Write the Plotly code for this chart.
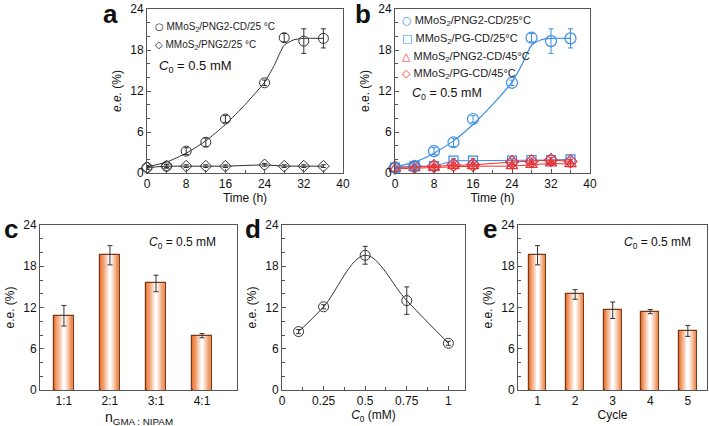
import plotly.graph_objects as go

W, H = 709, 426

# ---------------- data ----------------
time_h = [0, 4, 8, 12, 16, 24, 28, 32, 36]
ee_png2cd_25 = [0.8, 1.0, 3.2, 4.5, 7.9, 13.2, 19.8, 19.3, 19.7]
err_png2cd_25 = [0.3, 0.3, 0.5, 0.6, 0.5, 0.4, 0.6, 1.8, 1.4]
ee_png2_25 = [0.8, 1.0, 1.0, 1.0, 1.0, 1.2, 1.0, 1.0, 1.0]
err_png2_25 = [0.2, 0.2, 0.2, 0.2, 0.2, 0.2, 0.2, 0.2, 0.2]
fit_time = [0, 4, 8, 12, 16, 20, 24, 26, 28, 30, 32, 36]
fit_ee = [0.9, 1.6, 2.9, 4.7, 7.1, 10.0, 13.3, 15.8, 18.7, 19.5, 19.7, 19.7]
ee_pgcd_25 = [0.8, 1.0, 1.0, 1.8, 1.8, 1.8, 1.9, 1.9, 2.0]
err_pgcd_25 = [0.2, 0.2, 0.2, 0.3, 0.3, 0.3, 0.3, 0.3, 0.3]
ee_png2cd_45 = [0.6, 0.7, 0.8, 1.0, 1.0, 1.0, 1.2, 1.4, 1.3]
err_png2cd_45 = [0.2, 0.2, 0.2, 0.3, 0.3, 0.3, 0.3, 0.3, 0.3]
ee_pgcd_45 = [0.8, 0.9, 1.0, 1.2, 1.2, 1.6, 1.7, 1.9, 1.7]
err_pgcd_45 = [0.2, 0.2, 0.2, 0.3, 0.3, 0.3, 0.3, 0.4, 0.3]

ratio_labels = ["1:1", "2:1", "3:1", "4:1"]
ratio_pos = [0, 1, 2, 3]
ee_ratio = [10.8, 19.6, 15.5, 7.9]
err_ratio = [1.5, 1.4, 1.2, 0.3]

c0_mM = [0.1, 0.25, 0.5, 0.75, 1.0]
ee_c0 = [8.5, 12.1, 19.6, 13.0, 6.8]
err_c0 = [0.3, 0.3, 1.3, 2.0, 0.3]

cycle = [1, 2, 3, 4, 5]
ee_cycle = [19.6, 13.9, 11.6, 11.4, 8.6]
err_cycle = [1.4, 0.7, 1.2, 0.3, 0.8]

# ---------------- style ----------------
BLUE = "#3a8ee6"
RED = "#f03030"
GREY = "#333333"
AXC = "#555555"
FONT = "Liberation Sans, Arial, sans-serif"

fig = go.Figure()


def px_x(p):
    return p / W


def px_y(p):
    return 1 - p / H


def err(vals, color=GREY):
    return dict(type="data", array=vals, visible=True, color=color, thickness=1, width=2.5)


# ---------------- panel a ----------------
fig.add_trace(go.Scatter(x=fit_time, y=fit_ee, mode="lines", line=dict(color=GREY, width=1, shape="spline", smoothing=0.6),
                         xaxis="x", yaxis="y", showlegend=False, hoverinfo="skip"))
fig.add_trace(go.Scatter(x=time_h, y=ee_png2_25, mode="lines+markers", line=dict(color=GREY, width=1),
                         marker=dict(symbol="diamond-open", size=9, color=GREY, line=dict(width=1)),
                         error_y=err(err_png2_25), xaxis="x", yaxis="y", showlegend=False, cliponaxis=False))
fig.add_trace(go.Scatter(x=time_h, y=ee_png2cd_25, mode="markers",
                         marker=dict(symbol="circle-open", size=10, color=GREY, line=dict(width=1)),
                         error_y=err(err_png2cd_25), xaxis="x", yaxis="y", showlegend=False, cliponaxis=False))

# ---------------- panel b ----------------
fig.add_trace(go.Scatter(x=time_h, y=ee_pgcd_25, mode="lines+markers", line=dict(color=BLUE, width=1),
                         marker=dict(symbol="square-open", size=9, color=BLUE, line=dict(width=1.2)),
                         error_y=err(err_pgcd_25, BLUE), xaxis="x2", yaxis="y2", showlegend=False, cliponaxis=False))
fig.add_trace(go.Scatter(x=time_h, y=ee_png2cd_45, mode="lines+markers", line=dict(color=RED, width=1),
                         marker=dict(symbol="triangle-up-open", size=10, color=RED, line=dict(width=1.2)),
                         error_y=err(err_png2cd_45, RED), xaxis="x2", yaxis="y2", showlegend=False, cliponaxis=False))
fig.add_trace(go.Scatter(x=time_h, y=ee_pgcd_45, mode="lines+markers", line=dict(color=RED, width=1),
                         marker=dict(symbol="diamond-open", size=10, color=RED, line=dict(width=1.2)),
                         error_y=err(err_pgcd_45, RED), xaxis="x2", yaxis="y2", showlegend=False, cliponaxis=False))
fig.add_trace(go.Scatter(x=fit_time, y=fit_ee, mode="lines", line=dict(color=BLUE, width=1.2, shape="spline", smoothing=0.6),
                         xaxis="x2", yaxis="y2", showlegend=False, hoverinfo="skip"))
fig.add_trace(go.Scatter(x=time_h, y=ee_png2cd_25, mode="markers",
                         marker=dict(symbol="circle-open", size=11, color=BLUE, line=dict(width=1.2)),
                         error_y=err(err_png2cd_25, BLUE), xaxis="x2", yaxis="y2", showlegend=False, cliponaxis=False))

# ---------------- gradient bars (c, e) ----------------
ORANGE = (234, 118, 50)
N_LAYERS = 9


def gradient_bars(xs, ys, errs, width, xa, ya):
    for i in range(N_LAYERS):
        f = i / (N_LAYERS - 1)
        t = f ** 0.9
        col = tuple(int(round(o + (255 - o) * t)) for o in ORANGE)
        w = width * (1 - i / N_LAYERS)
        fig.add_trace(go.Bar(x=xs, y=ys, width=w, xaxis=xa, yaxis=ya,
                             marker=dict(color="rgb(%d,%d,%d)" % col,
                                         line=dict(color="#7a3a1a" if i == 0 else "rgba(0,0,0,0)", width=1.2 if i == 0 else 0)),
                             showlegend=False, hoverinfo="skip"))
    fig.add_trace(go.Scatter(x=xs, y=ys, mode="markers", marker=dict(size=1, color="rgba(0,0,0,0)"),
                             error_y=err(errs, "#333"), xaxis=xa, yaxis=ya, showlegend=False))


gradient_bars(ratio_pos, ee_ratio, err_ratio, 0.42, "x3", "y3")
gradient_bars(cycle, ee_cycle, err_cycle, 0.47, "x5", "y5")

# ---------------- panel d ----------------
fig.add_trace(go.Scatter(x=c0_mM, y=ee_c0, mode="lines", line=dict(color=GREY, width=1, shape="spline", smoothing=1.0),
                         xaxis="x4", yaxis="y4", showlegend=False, hoverinfo="skip"))
fig.add_trace(go.Scatter(x=c0_mM, y=ee_c0, mode="markers",
                         marker=dict(symbol="circle-open", size=10, color=GREY, line=dict(width=1)),
                         error_y=err(err_c0), xaxis="x4", yaxis="y4", showlegend=False, cliponaxis=False))

# ---------------- axes ----------------
TF = dict(size=12, color="#111", family=FONT)
base = dict(showline=True, linecolor=AXC, linewidth=1, mirror=True, ticks="inside", ticklen=4,
            tickcolor=AXC, showgrid=False, zeroline=False, tickfont=TF, automargin=False)

yax = dict(base, range=[0, 24], tick0=0, dtick=6,
           minor=dict(ticks="inside", dtick=2, ticklen=3, tickcolor=AXC))

dom_top = [px_y(173), px_y(9)]
dom_bot = [px_y(390), px_y(225)]

layout = dict(
    width=W, height=H, margin=dict(l=0, r=0, t=0, b=0, autoexpand=False),
    paper_bgcolor="white", plot_bgcolor="white", barmode="overlay", bargap=0,
    font=dict(family=FONT, color="#111"),
    xaxis=dict(base, domain=[px_x(147), px_x(343)], range=[0, 40], tick0=0, dtick=8, anchor="y",
               minor=dict(ticks="inside", dtick=4, ticklen=3, tickcolor=AXC),
               title=dict(text="Time (h)", standoff=2, font=TF)),
    yaxis=dict(yax, domain=dom_top, anchor="x",
               title=dict(text="<i>e.e.</i> (%)", standoff=6, font=TF)),
    xaxis2=dict(base, domain=[px_x(395), px_x(590)], range=[0, 40], tick0=0, dtick=8, anchor="y2",
                minor=dict(ticks="inside", dtick=4, ticklen=3, tickcolor=AXC),
                title=dict(text="Time (h)", standoff=2, font=TF)),
    yaxis2=dict(yax, domain=dom_top, anchor="x2",
                title=dict(text="e.e. (%)", standoff=6, font=TF)),
    xaxis3=dict(base, domain=[px_x(40), px_x(237)], range=[-0.52, 3.76], tickvals=ratio_pos, ticktext=ratio_labels,
                ticks="", anchor="y3"),
    yaxis3=dict(yax, domain=dom_bot, anchor="x3",
                title=dict(text="e.e. (%)", standoff=6, font=TF)),
    xaxis4=dict(base, domain=[px_x(282), px_x(465)], range=[0, 1.1], tickvals=[0, 0.25, 0.5, 0.75, 1],
                ticktext=["0", "0.25", "0.5", "0.75", "1"], anchor="y4",
                minor=dict(ticks="inside", dtick=0.125, ticklen=3, tickcolor=AXC),
                title=dict(text="<i>C</i><sub>0</sub> (mM)", standoff=2, font=TF)),
    yaxis4=dict(yax, domain=dom_bot, anchor="x4",
                title=dict(text="e.e. (%)", standoff=6, font=TF)),
    xaxis5=dict(base, domain=[px_x(518), px_x(707)], range=[0.48, 5.51], tickvals=cycle,
                ticktext=[str(c) for c in cycle], ticks="", anchor="y5",
                title=dict(text="Cycle", standoff=2, font=TF)),
    yaxis5=dict(yax, domain=dom_bot, anchor="x5",
                title=dict(text="e.e. (%)", standoff=6, font=TF)),
)
fig.update_layout(**layout)

# ---------------- annotations ----------------
ann = []


def text(x, y, s, size=12, color="#111", xanchor="left", yanchor="middle", bold=False):
    ann.append(dict(x=px_x(x), y=px_y(y), xref="paper", yref="paper", text=("<b>%s</b>" % s) if bold else s,
                    showarrow=False, xanchor=xanchor, yanchor=yanchor,
                    font=dict(size=size, color=color, family=FONT)))


# panel letters
text(101, 14, "a", size=26, bold=True)
text(353, 14, "b", size=26, bold=True)
text(2, 229, "c", size=26, bold=True)
text(243, 229, "d", size=26, bold=True)
text(481, 229, "e", size=26, bold=True)

# x title of panel c
text(138.5, 418, "n<sub>GMA : NIPAM</sub>", size=14, xanchor="center")

# C0 labels
c0txt = "<i>C</i><sub>0</sub> = 0.5 mM"
text(157, 66, c0txt, size=13)
text(410, 94, c0txt, size=12.5)
text(147, 243, c0txt, size=12)
text(622, 243, c0txt, size=12)

# legend panel a
ann.append(dict(x=px_x(153), y=px_y(27), xref="paper", yref="paper", showarrow=False, xanchor="left", yanchor="middle",
                text="<span style='font-family:DejaVu Sans'>○</span> MMoS<sub>2</sub>/PNG2-CD/25 °C",
                font=dict(size=10, color="#222", family=FONT)))
ann.append(dict(x=px_x(153), y=px_y(45), xref="paper", yref="paper", showarrow=False, xanchor="left", yanchor="middle",
                text="<span style='font-family:DejaVu Sans'>◇</span> MMoS<sub>2</sub>/PNG2/25 °C",
                font=dict(size=10, color="#222", family=FONT)))

# legend panel b
leg_b = [
    ("○", BLUE, "MMoS<sub>2</sub>/PNG2-CD/25°C", 21),
    ("□", BLUE, "MMoS<sub>2</sub>/PG-CD/25°C", 39),
    ("△", RED, "MMoS<sub>2</sub>/PNG2-CD/45°C", 57),
    ("◇", RED, "MMoS<sub>2</sub>/PG-CD/45°C", 74),
]
for sym, col, lab, yy in leg_b:
    ann.append(dict(x=px_x(400), y=px_y(yy), xref="paper", yref="paper", showarrow=False, xanchor="left", yanchor="middle",
                    text="<span style='font-family:DejaVu Sans;color:%s'>%s</span> %s" % (col, sym, lab),
                    font=dict(size=11, color="#222", family=FONT)))

fig.update_layout(annotations=ann)

fig.write_html("out.html", config={"displayModeBar": False},
               post_script="document.body.style.margin='0';document.body.style.overflow='hidden';")
